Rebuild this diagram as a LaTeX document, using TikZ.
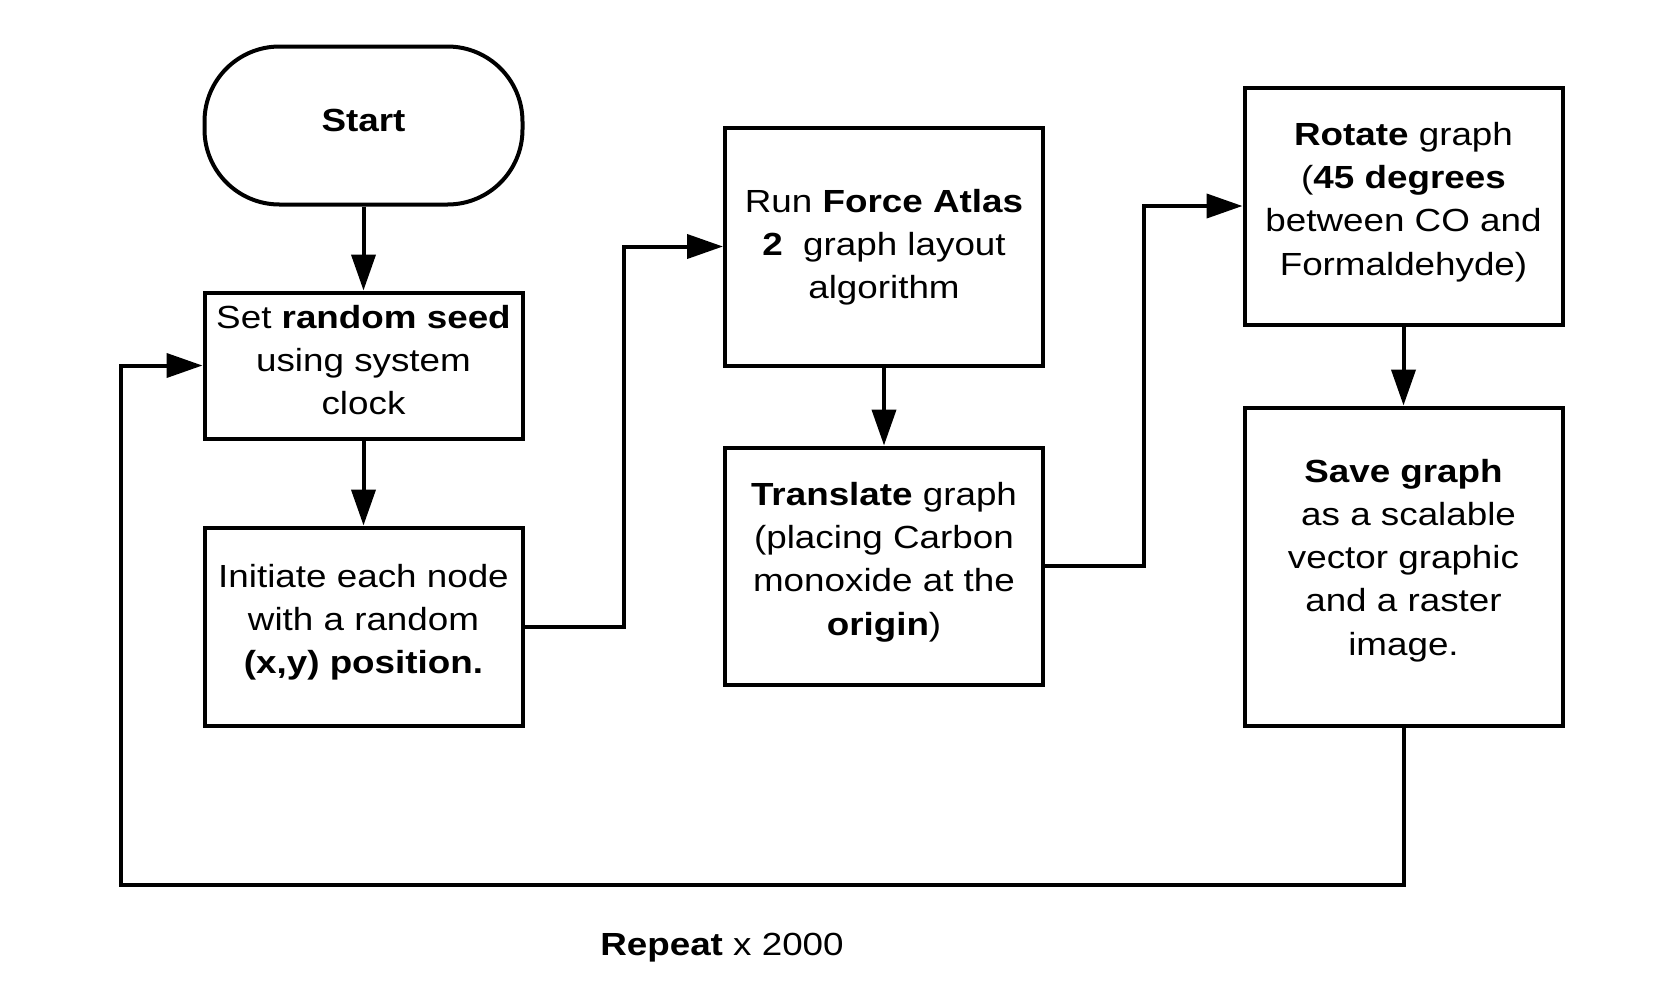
\documentclass[tikz,border=0pt]{standalone}
\usepackage{fontspec}
\setmainfont{Liberation Sans}[FakeStretch=1.15]
\usetikzlibrary{arrows.meta,calc}
\tikzstyle{terminal}=[draw,line width=4pt,rounded corners=75pt,minimum width=318pt,minimum height=158pt,inner sep=0pt,align=center]
\tikzstyle{process}=[draw,line width=4pt,minimum width=318pt,inner sep=0pt,align=center]
\tikzstyle{edge} = [draw,line width=4pt,-{Triangle[length=36pt,width=24pt]}]
\tikzstyle{txt} = [font=\fontsize{32}{43.3}\selectfont,align=center,text depth=15pt]

\begin{document}
\begin{tikzpicture}[x=1pt,y=-1pt]
	\useasboundingbox (0,0) rectangle (1674,994);
	% First we draw the steps
	\node[terminal,txt,text depth=11pt] (start) at (363.5,125.5) {\textbf{Start}};
	\node[process,txt,minimum height=146pt,text depth=11pt] (seed) at (363.5,365.5) {Set \textbf{random seed}\\using system\\clock};
	\node[process,txt,minimum height=198pt] (init) at (363.5,626.5) {Initiate each node\\with a random\\\textbf{(x,y) position.}};
	\node[process,txt,minimum height=238pt,text depth=5pt] (force) at (884,246.5) {Run \textbf{Force Atlas}\\\textbf{2}\ \ graph layout\\algorithm};
	\node[process,txt,minimum height=237pt] (trans) at (884,566) {\textbf{Translate} graph\\(placing Carbon\\monoxide at the\\\textbf{origin})};
	\node[process,txt,minimum height=237pt] (rot) at (1403.5,206) {\textbf{Rotate} graph\\(\textbf{45 degrees}\\between CO and\\Formaldehyde)};
	\node[process,txt,minimum height=318pt,text depth=19pt] (save) at (1403.5,566.5) {\textbf{Save graph}\\\ as a scalable\\vector graphic\\and a raster\\image.};
	\node[txt,anchor=base,text depth=] (repeat) at (722,955) {\textbf{Repeat} x 2000};
	\coordinate (loop) at (121,885);

	% Connect the steps
	\foreach \source/ \dest in {start/seed, seed/init, force/trans, rot/save}
	\path[edge] (\source) -- (\dest);

	\path[edge] (init.east) -| ($(init.east)!.5!(force.west)$) |- (force.west);
	\path[edge] (trans.east) -| ($(trans.east)!.5!(rot.west)$) |- (rot.west);
	\path[edge] (save.south) |- (loop) |- (seed.west);

\end{tikzpicture}
\end{document}
